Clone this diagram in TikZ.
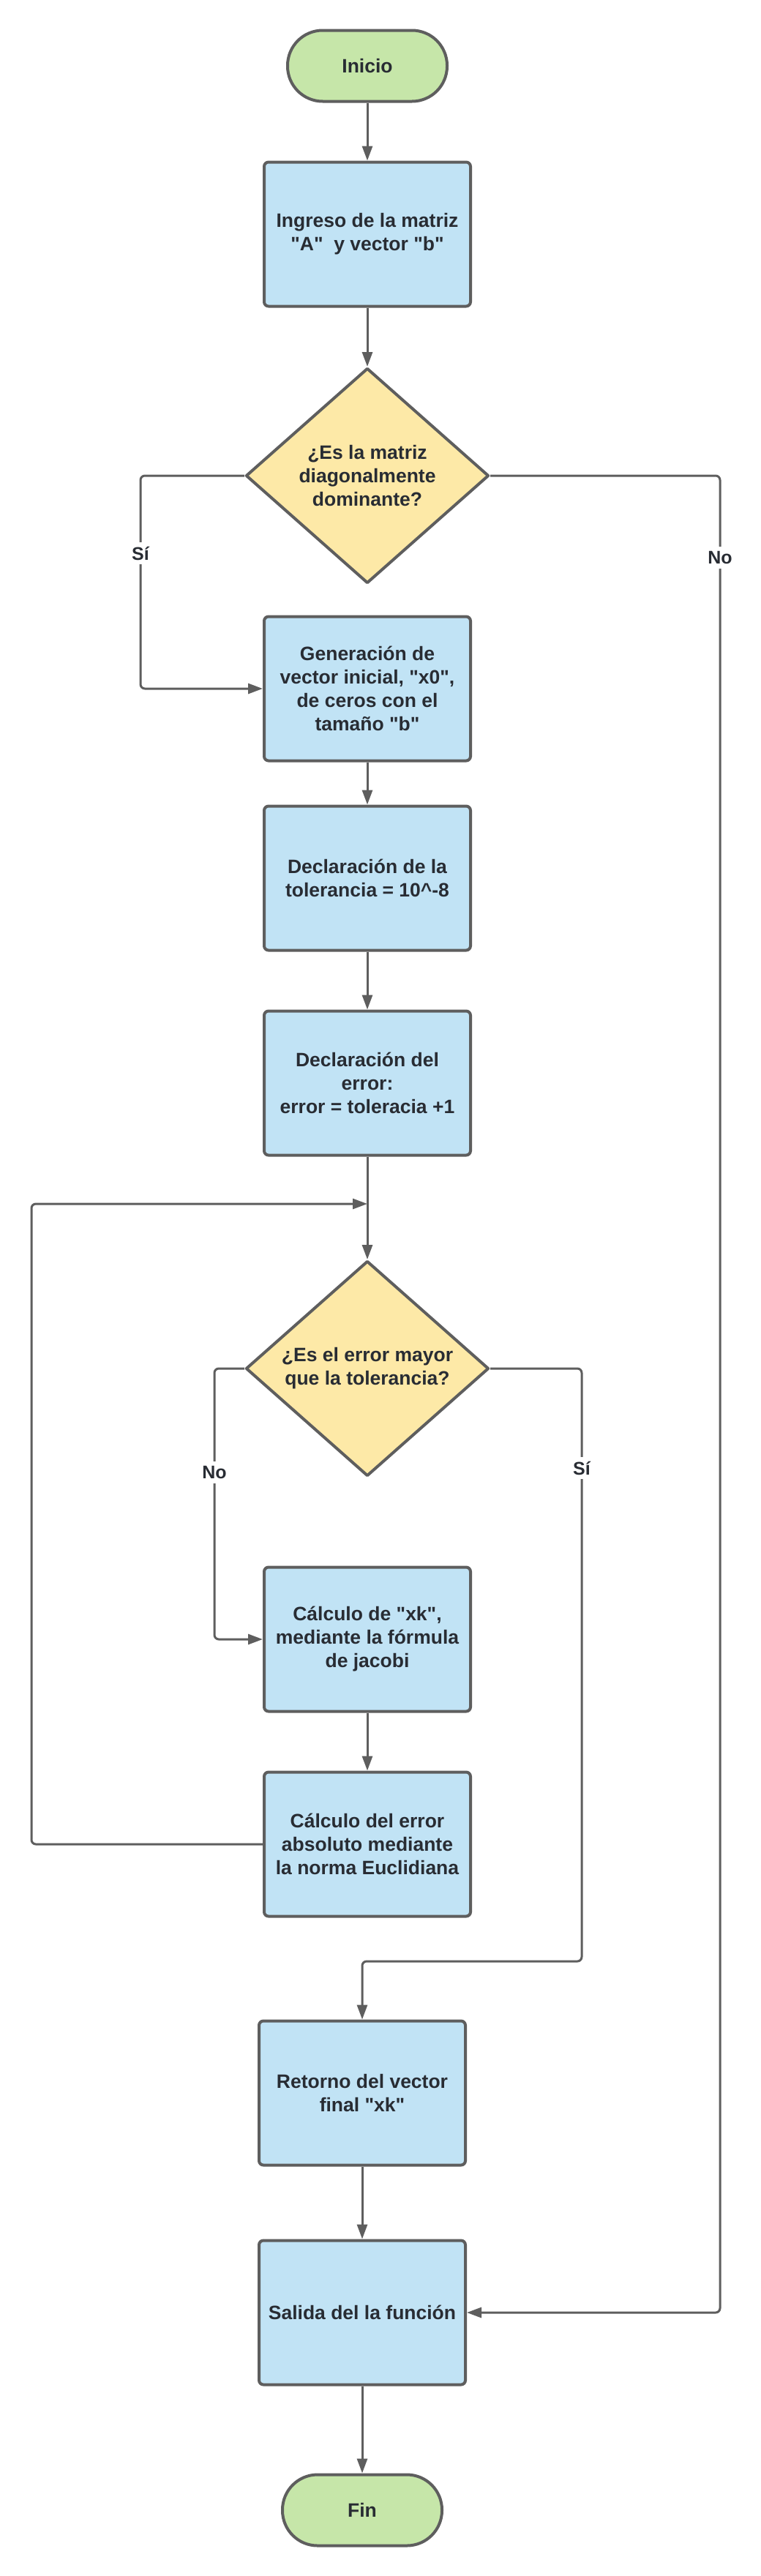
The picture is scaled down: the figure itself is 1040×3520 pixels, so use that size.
\documentclass[tikz,border=0pt]{standalone}
\usepackage{fontspec}
\newfontfamily\lsans{Liberation Sans}
\usetikzlibrary{shapes.geometric,arrows.meta}
\definecolor{lnc}{HTML}{5E5E5E}
\definecolor{txt}{HTML}{282C33}
\definecolor{grn}{HTML}{C6E6A9}
\definecolor{blu}{HTML}{C1E3F5}
\definecolor{ylw}{HTML}{FDE9A7}
\begin{document}
\begin{tikzpicture}[x=1pt,y=-1pt,
  base/.style={draw=lnc, line width=4pt, font=\lsans\fontsize{26.5}{32}\selectfont\bfseries, text=txt, align=center, inner sep=0pt},
  term/.style={base, fill=grn, rounded corners=48pt, minimum width=218pt, minimum height=97pt},
  proc/.style={base, fill=blu, rounded corners=6pt, minimum width=282pt, minimum height=197pt},
  dec/.style={base, fill=ylw, diamond, minimum width=332pt, minimum height=294pt, line join=round},
  conn/.style={draw=lnc, line width=3pt, rounded corners=6pt, -{Triangle[length=20pt,width=14pt]}},
  lbl/.style={fill=white, text=txt, font=\lsans\fontsize{25}{30}\selectfont\bfseries, inner sep=6pt}
]
\fill[white] (0,0) rectangle (1040,3520);
\useasboundingbox (0,0) rectangle (1040,3520);

\node[term] (inicio) at (502,90) {Inicio};
\node[proc] (ingreso) at (502,320) {Ingreso de la matriz\\"A"~ y vector "b"};
\node[dec] (d1) at (502,650) {¿Es la matriz\\diagonalmente\\dominante?};
\node[proc] (gen) at (502,941) {Generación de\\vector inicial, "x0",\\de ceros con el\\tamaño "b"};
\node[proc] (tol) at (502,1200) {Declaración de la\\tolerancia = 10\textasciicircum-8};
\node[proc] (err) at (502,1480) {Declaración del\\error:\\error = toleracia +1};
\node[dec] (d2) at (502,1870) {¿Es el error mayor\\que la tolerancia?};
\node[proc] (xk) at (502,2240) {Cálculo de "xk",\\mediante la fórmula\\de jacobi};
\node[proc] (errabs) at (502,2520) {Cálculo del error\\absoluto mediante\\la norma Euclidiana};
\node[proc] (ret) at (495,2860) {Retorno del vector\\final "xk"};
\node[proc] (sal) at (495,3160) {Salida del la función};
\node[term] (fin) at (495,3430) {Fin};

\coordinate (sileft) at (192,650);
\coordinate (noright) at (984,650);
\coordinate (loopx) at (43,1645);
\coordinate (merge) at (502,1645);
\coordinate (noleft2) at (293,1870);
\coordinate (siright2) at (795,1870);
\coordinate (sibend) at (795,2680);

\draw[conn] (inicio) -- (ingreso);
\draw[conn] (ingreso) -- (d1);
\draw[conn] (d1.west) -- (sileft) |- (gen.west);
\draw[conn] (d1.east) -- (noright) |- (sal.east);
\draw[conn] (gen) -- (tol);
\draw[conn] (tol) -- (err);
\draw[conn] (err) -- (d2);
\draw[conn] (errabs.west) -| (loopx) -- (merge);
\draw[conn] (d2.west) -- (noleft2) |- (xk.west);
\draw[conn] (d2.east) -- (siright2) -- (sibend) -| (ret.north);
\draw[conn] (xk) -- (errabs);
\draw[conn] (ret) -- (sal);
\draw[conn] (sal) -- (fin);

\node[lbl] (l1) at (192,756) {Sí};
\node[lbl] (l2) at (984,762) {No};
\node[lbl] (l3) at (293,2012) {No};
\node[lbl] (l4) at (795,2006) {Sí};
\end{tikzpicture}
\end{document}
